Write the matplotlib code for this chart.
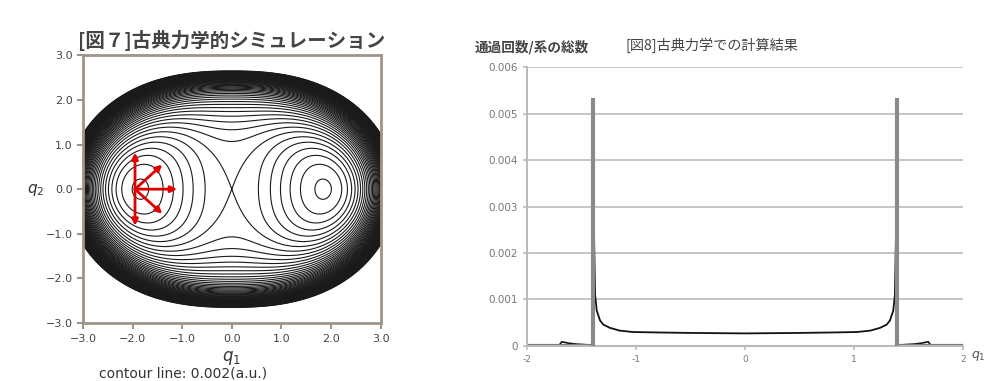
import numpy as np
import matplotlib
matplotlib.use('Agg')
from matplotlib import pyplot as plt

plt.rcParams['font.family'] = ['Noto Sans CJK JP', 'DejaVu Sans']

# left: potential surface parameters (a.u.)
well = 1.85          # position of the two minima on q1
barrier = 0.0124     # saddle height at (0, 0)
k_q2 = 0.8           # q2^2 stiffness (relative)
k_q2_4 = 0.75        # q2^4 term (relative)
k_mix = 1.91         # q1^2 q2^2 coupling (relative)
k_wall = 60.0        # steep outer wall (relative)
wall_q1 = 3.34       # wall extent along q1 / q2
wall_q2 = 2.65
wall_pow = 7
step = 0.002         # contour spacing
n_below = 6          # contour lines below the saddle
v_top = 0.122

# red arrows: start point and directions of initial momenta
arrow_start = (-1.95, 0.0)
arrow_dx = [0.0, 0.55, 0.85, 0.55, 0.0]
arrow_dy = [0.82, 0.55, 0.0, -0.55, -0.82]

# right: passage count / total along q1
q1_out_l = [-2.0, -1.71, -1.68, -1.62, -1.55, -1.48, -1.42]
n_out_l = [0.0, 0.0, 0.00009, 0.00006, 0.00004, 0.00003, 0.00002]
q1_out_r = [1.42, 1.48, 1.55, 1.62, 1.68, 1.71, 2.0]
n_out_r = [0.00002, 0.00003, 0.00004, 0.00006, 0.00009, 0.0, 0.0]
q1_in = [-1.385, -1.375, -1.36, -1.33, -1.30, -1.24, -1.15, -1.03, -0.8, -0.5, 0.0,
         0.5, 0.8, 1.03, 1.15, 1.24, 1.30, 1.33, 1.36, 1.375, 1.385]
n_in = [0.0024, 0.0011, 0.00076, 0.00055, 0.00046, 0.00039, 0.00033, 0.00030, 0.00029,
        0.00028, 0.00027, 0.00028, 0.00029, 0.00030, 0.00033, 0.00039, 0.00046, 0.00055,
        0.00076, 0.0011, 0.0024]
q1_spike = [-1.392, 1.392]
n_spike = 0.00533

fig = plt.figure(figsize=(9.99, 3.81), dpi=100)

# ---- left panel
ax1 = fig.add_axes([0.083, 0.152, 0.298, 0.703])
q1 = np.linspace(-3, 3, 901)
q2 = np.linspace(-3, 3, 901)
Q1, Q2 = np.meshgrid(q1, q2)
scale = barrier / well**4
rho = (np.abs(Q1) / wall_q1)**2.5 + (Q2 / wall_q2)**2
V = scale * ((Q1**2 - well**2)**2 + k_q2 * Q2**2 + k_q2_4 * Q2**4
             + k_mix * Q1**2 * Q2**2 + k_wall * rho**wall_pow)
levels = np.arange(barrier - n_below * step, v_top, step)
ax1.contour(Q1, Q2, V, levels=levels, colors='#1a1a1a', linewidths=0.8)

for dx, dy in zip(arrow_dx, arrow_dy):
    ax1.annotate('', xy=(arrow_start[0] + dx, arrow_start[1] + dy), xytext=arrow_start,
                 arrowprops=dict(arrowstyle='-|>', color='#e00000', lw=2, mutation_scale=9,
                                 shrinkA=0, shrinkB=0))

ax1.set_xlim(-3, 3)
ax1.set_ylim(-3, 3)
ticks = [-3, -2, -1, 0, 1, 2, 3]
labels = ['\u22123.0', '\u22122.0', '\u22121.0', '0.0', '1.0', '2.0', '3.0']
ax1.set_xticks(ticks)
ax1.set_xticklabels(labels, family='DejaVu Sans', fontsize=8, color='#444444')
ax1.set_yticks(ticks)
ax1.set_yticklabels(labels, family='DejaVu Sans', fontsize=8, color='#444444')
for s in ax1.spines.values():
    s.set_color('#a09488')
    s.set_linewidth(2)
ax1.tick_params(color='#a09488', length=4, width=1.5)
ax1.set_title('[図７]古典力学的シミュレーション', fontsize=14, fontweight='bold',
              color='#444444', pad=6)
ax1.set_xlabel('$q_1$', fontsize=12, color='#333333', labelpad=4)
ax1.text(-0.16, 0.5, '$q_2$', transform=ax1.transAxes, fontsize=11, color='#333333',
         ha='center', va='center')
fig.text(0.183, 0.02, 'contour line: 0.002(a.u.)', family='DejaVu Sans', fontsize=10,
         color='#333333', ha='center', va='center')

# ---- right panel
ax2 = fig.add_axes([0.5275, 0.092, 0.4365, 0.732])
ax2.grid(axis='y', color='#bbbbbb', lw=1.2)
ax2.set_axisbelow(True)
ax2.plot(q1_out_l, n_out_l, color='#111111', lw=1.2)
ax2.plot(q1_out_r, n_out_r, color='#111111', lw=1.2)
ax2.plot(q1_in, n_in, color='#111111', lw=1.3)
ax2.plot([q1_out_l[0], q1_spike[0]], [0, 0], color='#777777', lw=3, solid_capstyle='butt')
ax2.plot([q1_spike[1], q1_out_r[-1]], [0, 0], color='#777777', lw=3, solid_capstyle='butt')
ax2.vlines(q1_spike, 0, n_spike, color='#8a8a8a', lw=3, zorder=3)

ax2.set_xlim(-2, 2)
ax2.set_ylim(0, 0.006)
ax2.set_xticks([-2, -1, 0, 1, 2])
ax2.set_xticklabels(['-2', '-1', '0', '1', '2'], family='DejaVu Sans', fontsize=6.5,
                    color='#777777')
ax2.set_yticks([0, 0.001, 0.002, 0.003, 0.004, 0.005, 0.006])
ax2.set_yticklabels(['0', '0.001', '0.002', '0.003', '0.004', '0.005', '0.006'],
                    family='DejaVu Sans', fontsize=7.5, color='#777777')
for name in ['top', 'right']:
    ax2.spines[name].set_visible(False)
for name in ['left', 'bottom']:
    ax2.spines[name].set_color('#bbbbbb')
    ax2.spines[name].set_linewidth(1.5)
ax2.tick_params(color='#bbbbbb', length=3, width=1.2)
ax2.text(2.07, -0.00022, '$q_1$', fontsize=9, color='#555555', ha='left', va='center')
fig.text(0.475, 0.877, '通過回数/系の総数', fontsize=9.8, fontweight='bold', color='#444444',
         ha='left', va='center')
fig.text(0.713, 0.881, '[図8]古典力学での計算結果', fontsize=10.2, color='#444444',
         ha='center', va='center')

fig.savefig('out.png', dpi=100)
